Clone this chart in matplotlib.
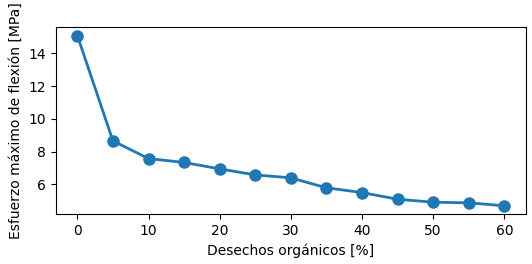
import matplotlib

matplotlib.use("Agg")

import matplotlib.pyplot as plt

desechos = [0, 5, 10, 15, 20, 25, 30, 35, 40, 45, 50, 55, 60]
esfuerzo = [15.1, 8.65, 7.57, 7.33, 6.94, 6.57, 6.39, 5.78, 5.49, 5.08, 4.90, 4.86, 4.68]

fig = plt.figure(figsize=(5.32, 2.64), dpi=100)
ax = fig.add_axes([56 / 532, 1 - 214.3 / 264, (525.7 - 56) / 532, (214.3 - 27) / 264])
ax.plot(desechos, esfuerzo, marker="o", markersize=8, linewidth=2, color="#1f77b4")
ax.set_xlabel("Desechos orgánicos [%]")
ax.set_ylabel("Esfuerzo máximo de flexión [MPa]")
fig.savefig("out.png", dpi=100)
